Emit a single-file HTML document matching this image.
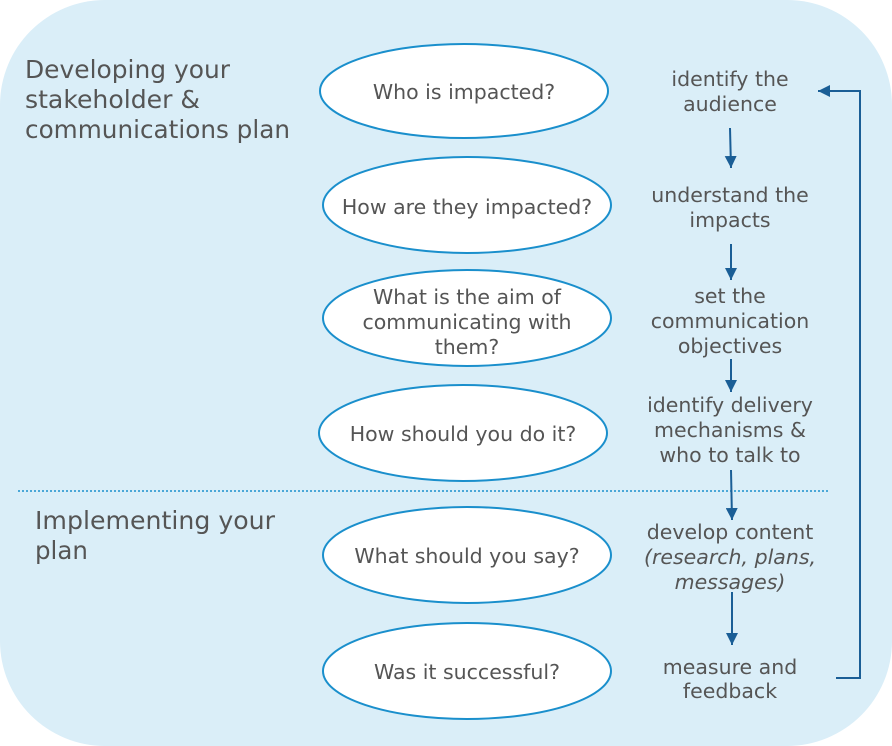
<!DOCTYPE html>
<html><head><style>body{margin:0}svg{display:block}text{font-family:"DejaVu Sans","Liberation Sans",sans-serif;fill:#555}</style></head><body>
<svg width="892" height="746" viewBox="0 0 892 746" xmlns="http://www.w3.org/2000/svg">
<defs><marker id="a" viewBox="0 0 12 12" refX="12" refY="6" markerWidth="12" markerHeight="12" markerUnits="userSpaceOnUse" orient="auto"><path d="M0,0L12,6L0,12z" fill="#1a5e96"/></marker></defs>
<rect x="0" y="0" width="892" height="746" rx="105" ry="105" fill="#daeef8"/>
<g font-size="24.5">
<text x="25" y="78" textLength="205" lengthAdjust="spacingAndGlyphs">Developing your</text>
<text x="25" y="108" textLength="175" lengthAdjust="spacingAndGlyphs">stakeholder &amp;</text>
<text x="25" y="138" textLength="265" lengthAdjust="spacingAndGlyphs">communications plan</text>
<text x="35" y="529" textLength="240" lengthAdjust="spacingAndGlyphs">Implementing your</text>
<text x="35" y="559">plan</text>
</g>
<line x1="18" y1="491" x2="830" y2="491" stroke="#1a8fcc" stroke-width="1.5" stroke-dasharray="2,2"/>
<g fill="#fff" stroke="#1a8fcc" stroke-width="2">
<ellipse cx="464" cy="91" rx="144" ry="47"/>
<ellipse cx="467" cy="205" rx="144" ry="48"/>
<ellipse cx="467" cy="318" rx="144" ry="48"/>
<ellipse cx="463" cy="433" rx="144" ry="48"/>
<ellipse cx="467" cy="555" rx="144" ry="48"/>
<ellipse cx="467" cy="671" rx="144" ry="48"/>
</g>
<g font-size="20.5" text-anchor="middle">
<text x="464" y="99">Who is impacted?</text>
<text x="467" y="214">How are they impacted?</text>
<text x="467" y="304">What is the aim of</text>
<text x="467" y="329">communicating with</text>
<text x="467" y="354">them?</text>
<text x="463" y="441">How should you do it?</text>
<text x="467" y="563">What should you say?</text>
<text x="467" y="679">Was it successful?</text>
<text x="730" y="86">identify the</text>
<text x="730" y="111">audience</text>
<text x="730" y="202">understand the</text>
<text x="730" y="227">impacts</text>
<text x="730" y="303">set the</text>
<text x="730" y="328">communication</text>
<text x="730" y="353">objectives</text>
<text x="730" y="412">identify delivery</text>
<text x="730" y="437">mechanisms &amp;</text>
<text x="730" y="462">who to talk to</text>
<text x="730" y="539">develop content</text>
<text x="730" y="564" font-style="italic">(research, plans,</text>
<text x="730" y="589" font-style="italic">messages)</text>
<text x="730" y="674">measure and</text>
<text x="730" y="698">feedback</text>
</g>
<g stroke="#1a5e96" stroke-width="2" fill="none" marker-end="url(#a)">
<line x1="730" y1="128" x2="731" y2="168"/>
<line x1="731" y1="244" x2="731" y2="280"/>
<line x1="731" y1="359" x2="731" y2="392"/>
<line x1="731" y1="470" x2="732" y2="520"/>
<line x1="732" y1="592" x2="732" y2="645"/>
<polyline points="836,678 860,678 860,91 818,91"/>
</g>
</svg>
</body></html>
